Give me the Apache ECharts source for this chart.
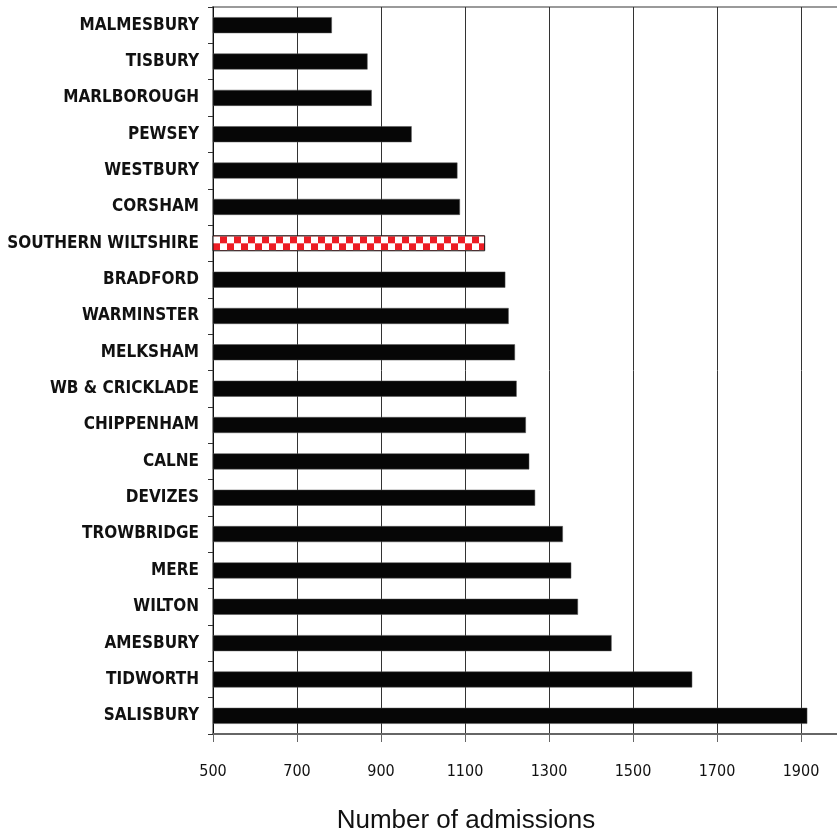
<!DOCTYPE html>
<html>
<head>
<meta charset="utf-8">
<script src="https://cdn.jsdelivr.net/npm/echarts@6/dist/echarts.min.js"></script>
<style>
html,body{margin:0;padding:0;background:#fff;}
#chart{width:837px;height:832px;}
</style>
</head>
<body>
<div id="chart"></div>
<script>
// Data (top to bottom)
const categories = ["MALMESBURY","TISBURY","MARLBOROUGH","PEWSEY","WESTBURY","CORSHAM","SOUTHERN WILTSHIRE","BRADFORD","WARMINSTER","MELKSHAM","WB & CRICKLADE","CHIPPENHAM","CALNE","DEVIZES","TROWBRIDGE","MERE","WILTON","AMESBURY","TIDWORTH","SALISBURY"];
const admissions = [783,868,878,973,1082,1088,1148,1196,1204,1219,1223,1245,1253,1267,1333,1353,1369,1449,1641,1915];
const highlightCategory = "SOUTHERN WILTSHIRE";
const xTicks = { min: 500, max: 2100, interval: 200 };
const axisTitle = "Number of admissions";

const SQ = 7;
// Checkered pattern for the highlighted bar
function makeChecker() {
  const c = document.createElement('canvas');
  c.width = SQ * 2; c.height = SQ * 2;
  const ctx = c.getContext('2d');
  ctx.fillStyle = '#ffffff';
  ctx.fillRect(0, 0, SQ * 2, SQ * 2);
  ctx.fillStyle = '#ec1c24';
  ctx.fillRect(0, 0, SQ, SQ);
  ctx.fillRect(SQ, SQ, SQ, SQ);
  return c;
}
const checker = makeChecker();

function buildData(px, py) {
  return categories.map((cat, i) => {
    if (cat === highlightCategory) {
      return {
        value: admissions[i],
        itemStyle: { color: { image: checker, repeat: 'repeat', x: px, y: py }, borderColor: '#111', borderWidth: 1 }
      };
    }
    return admissions[i];
  });
}

const narrow = "'DejaVu Sans Condensed', 'Liberation Sans Narrow', sans-serif";

const chart = echarts.init(document.getElementById('chart'), null, { renderer: 'canvas' });
chart.setOption({
  animation: false,
  backgroundColor: '#ffffff',
  grid: {
    left: 213, top: 7, right: -48, bottom: 98,
    containLabel: false,
    outerBoundsMode: 'none',
    show: true, borderColor: '#9a9a9a', borderWidth: 2, backgroundColor: 'transparent'
  },
  xAxis: {
    type: 'value',
    min: xTicks.min, max: xTicks.max, interval: xTicks.interval,
    name: axisTitle,
    nameLocation: 'middle',
    nameGap: 74,
    nameTextStyle: { fontFamily: "'Liberation Sans', Arial, sans-serif", fontSize: 26, color: '#111', padding: [0, 166, 0, 0] },
    axisLine: { show: true, lineStyle: { color: '#666', width: 2 } },
    axisTick: { show: true, length: 8, lineStyle: { color: '#666', width: 1 } },
    axisLabel: { margin: 30, fontFamily: narrow, fontSize: 16, color: '#111', formatter: v => String(v) },
    splitLine: { show: true, lineStyle: { color: '#333', width: 1 } }
  },
  yAxis: {
    type: 'category',
    data: categories,
    inverse: true,
    axisLine: { show: true, lineStyle: { color: '#111', width: 1 } },
    axisTick: { show: true, length: 5, lineStyle: { color: '#333' } },
    axisLabel: { margin: 14, fontFamily: narrow, fontWeight: 'bold', fontSize: 17, color: '#111' },
    splitLine: { show: false }
  },
  series: [{
    type: 'bar',
    data: buildData(0, 0),
    barWidth: 16,
    itemStyle: { color: '#060606', borderColor: '#555', borderWidth: 0.5 }
  }]
});

// Align the checker pattern with the highlighted bar's own position (from the axes)
const cy = chart.convertToPixel({ yAxisIndex: 0 }, highlightCategory);
const x0 = chart.convertToPixel({ xAxisIndex: 0 }, xTicks.min);
const period = SQ * 2;
const offY = ((cy % period) + period) % period;
const offX = ((x0 % period) + period) % period;
chart.setOption({ series: [{ data: buildData(offX, offY) }] });
</script>
</body>
</html>
